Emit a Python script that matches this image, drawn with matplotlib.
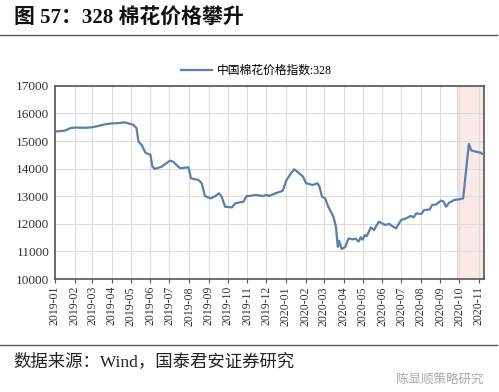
import matplotlib
matplotlib.use("Agg")
import matplotlib.pyplot as plt
import pandas as pd

dates = ["2019-01-02", "2019-01-10", "2019-01-17", "2019-01-25", "2019-02-02", "2019-02-19", "2019-03-01",
         "2019-03-11", "2019-03-22", "2019-04-01", "2019-04-12", "2019-04-21", "2019-04-27", "2019-05-05",
         "2019-05-10", "2019-05-13", "2019-05-18", "2019-05-24", "2019-06-01", "2019-06-04", "2019-06-08",
         "2019-06-19", "2019-06-26", "2019-07-02", "2019-07-07", "2019-07-12", "2019-07-18", "2019-07-31",
         "2019-08-04", "2019-08-16", "2019-08-21", "2019-08-26", "2019-09-04", "2019-09-12", "2019-09-17",
         "2019-09-21", "2019-09-27", "2019-10-08", "2019-10-13", "2019-10-26", "2019-10-31", "2019-11-04",
         "2019-11-14", "2019-11-25", "2019-12-02", "2019-12-05", "2019-12-16", "2019-12-27", "2020-01-02",
         "2020-01-09", "2020-01-14", "2020-01-19", "2020-01-28", "2020-02-02", "2020-02-12", "2020-02-20",
         "2020-02-23", "2020-02-27", "2020-03-03", "2020-03-08", "2020-03-16", "2020-03-20", "2020-03-23",
         "2020-03-25", "2020-03-29", "2020-04-04", "2020-04-09", "2020-04-15", "2020-04-20", "2020-04-25",
         "2020-04-28", "2020-05-01", "2020-05-05", "2020-05-08", "2020-05-14", "2020-05-19", "2020-05-27",
         "2020-06-06", "2020-06-12", "2020-06-17", "2020-06-23", "2020-06-27", "2020-07-01", "2020-07-09",
         "2020-07-16", "2020-07-21", "2020-07-25", "2020-08-02", "2020-08-06", "2020-08-15", "2020-08-19",
         "2020-08-25", "2020-09-02", "2020-09-06", "2020-09-10", "2020-09-15", "2020-09-23", "2020-10-01",
         "2020-10-07", "2020-10-16", "2020-10-20", "2020-11-03", "2020-11-09"]
values = [15350, 15360, 15380, 15465, 15490, 15480, 15500,
          15550, 15610, 15640, 15650, 15680, 15640, 15585,
          15465, 14980, 14860, 14580, 14500, 14075, 13990,
          14075, 14200, 14290, 14250, 14135, 14015, 14050,
          13650, 13590, 13470, 13010, 12925, 13010, 13110,
          13010, 12620, 12600, 12745, 12805, 13010, 13010,
          13050, 13010, 13050, 13010, 13110, 13200, 13590,
          13830, 13980, 13890, 13710, 13470, 13410, 13470,
          13350, 12985, 12925, 12620, 12260, 11900, 11170,
          11390, 11090, 11170, 11475, 11440, 11460, 11360,
          11515, 11430, 11595, 11560, 11875, 11780, 12080,
          11960, 12000, 11920, 11840, 11990, 12140, 12200,
          12285, 12240, 12380, 12360, 12500, 12520, 12685,
          12700, 12840, 12810, 12620, 12770, 12865, 12890,
          12925, 14895, 14655, 14580, 14500]
series_name = "中国棉花价格指数:328"
shade_start, shade_end = "2020-09-28", "2020-11-09"
yticks = [10000, 11000, 12000, 13000, 14000, 15000, 16000, 17000]

serif = ["Liberation Serif", "Noto Sans CJK SC"]
cjk = ["Noto Sans CJK SC", "DejaVu Sans"]

x = pd.to_datetime(dates)
fig = plt.figure(figsize=(4.99, 3.92), dpi=100)
ax = fig.add_axes([0.110, 0.288, 0.860, 0.493])

ax.axvspan(pd.Timestamp(shade_start), pd.Timestamp(shade_end), facecolor="#fae9e7", edgecolor="#f0c8c4",
           lw=0.6, zorder=0)
ax.plot(x, values, color="#5a7fab", lw=1.6, label=series_name, zorder=3)

ax.set_xlim(pd.Timestamp("2019-01-01"), pd.Timestamp("2020-11-09"))
ax.set_ylim(10000, 17000)
ax.set_yticks(yticks)
ticks = pd.date_range("2019-01-01", "2020-11-01", freq="MS")
ax.set_xticks(ticks)
ax.set_xticklabels([t.strftime("%Y-%m") for t in ticks], rotation=90, fontfamily=serif, fontsize=8.5, color="#333333")
for lab in ax.get_yticklabels():
    lab.set_fontfamily(serif)
    lab.set_fontsize(9.5)
    lab.set_color("#333333")
ax.grid(True, color="#dcdcdc", lw=0.8, zorder=1)
ax.set_axisbelow(True)
for s in ax.spines.values():
    s.set_color("#555555")
    s.set_linewidth(1.2)
ax.tick_params(axis="x", direction="out", length=3, color="#555555", pad=2)
ax.tick_params(axis="y", length=0, pad=4)

leg = ax.legend(loc="lower center", bbox_to_anchor=(0.47, 1.02), frameon=False, prop={"family": serif, "size": 8.5},
                handlelength=2.6, handletextpad=0.4, borderaxespad=0)

fig.text(0.028, 0.955, "图 57：328 棉花价格攀升", fontfamily=serif, fontweight="bold", fontsize=15,
         ha="left", va="center", color="#111111")
fig.add_artist(plt.Line2D([0.0, 0.996], [0.911, 0.911], color="#555555", lw=1.0))
fig.add_artist(plt.Line2D([0.0, 0.996], [0.120, 0.120], color="#555555", lw=1.0))
fig.text(0.026, 0.077, "数据来源：Wind，国泰君安证券研究", fontfamily=serif, fontsize=12.5,
         ha="left", va="center", color="#222222")
fig.text(0.968, 0.030, "陈显顺策略研究", fontfamily=cjk, fontsize=9, ha="right", va="center", color="#aaaaaa")

fig.savefig("out.png", dpi=100)
